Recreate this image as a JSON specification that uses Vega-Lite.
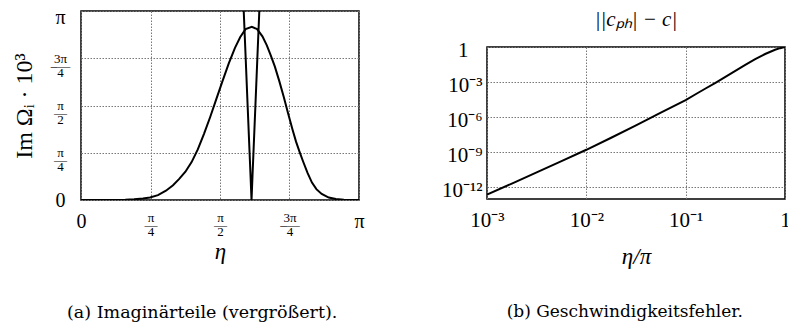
{
  "$schema": "https://vega.github.io/schema/vega-lite/v6.json",
  "background": "white",
  "padding": {"left": 11, "top": 6, "right": 0, "bottom": 0},
  "spacing": 75,
  "config": {
    "font": "Liberation Serif",
    "view": {"stroke": "black", "strokeWidth": 1.5},
    "axis": {
      "grid": true,
      "gridColor": "#777777",
      "gridDash": [1.5, 1.5],
      "gridWidth": 1,
      "domain": false,
      "tickSize": 0,
      "labelColor": "black",
      "titleColor": "black",
      "labelFont": "Liberation Serif",
      "titleFont": "Liberation Serif",
      "titleFontWeight": "normal",
      "labelOverlap": false,
      "labelFlush": false
    }
  },
  "datasets": {
    "imag": [
      {"eta": 0.0, "value": 0.0, "branch": "breit"},
      {"eta": 0.2, "value": 0.0, "branch": "breit"},
      {"eta": 0.35, "value": 0.0005, "branch": "breit"},
      {"eta": 0.5, "value": 0.004, "branch": "breit"},
      {"eta": 0.6, "value": 0.011, "branch": "breit"},
      {"eta": 0.7, "value": 0.024, "branch": "breit"},
      {"eta": 0.78, "value": 0.043, "branch": "breit"},
      {"eta": 0.87, "value": 0.08, "branch": "breit"},
      {"eta": 0.96, "value": 0.155, "branch": "breit"},
      {"eta": 1.04, "value": 0.245, "branch": "breit"},
      {"eta": 1.11, "value": 0.35, "branch": "breit"},
      {"eta": 1.18, "value": 0.47, "branch": "breit"},
      {"eta": 1.25, "value": 0.63, "branch": "breit"},
      {"eta": 1.32, "value": 0.84, "branch": "breit"},
      {"eta": 1.39, "value": 1.1, "branch": "breit"},
      {"eta": 1.46, "value": 1.38, "branch": "breit"},
      {"eta": 1.53, "value": 1.68, "branch": "breit"},
      {"eta": 1.6, "value": 1.98, "branch": "breit"},
      {"eta": 1.67, "value": 2.27, "branch": "breit"},
      {"eta": 1.74, "value": 2.53, "branch": "breit"},
      {"eta": 1.8, "value": 2.71, "branch": "breit"},
      {"eta": 1.86, "value": 2.84, "branch": "breit"},
      {"eta": 1.93, "value": 2.88, "branch": "breit"},
      {"eta": 1.99, "value": 2.84, "branch": "breit"},
      {"eta": 2.05, "value": 2.72, "branch": "breit"},
      {"eta": 2.1, "value": 2.57, "branch": "breit"},
      {"eta": 2.14, "value": 2.42, "branch": "breit"},
      {"eta": 2.19, "value": 2.22, "branch": "breit"},
      {"eta": 2.24, "value": 1.98, "branch": "breit"},
      {"eta": 2.29, "value": 1.72, "branch": "breit"},
      {"eta": 2.34, "value": 1.44, "branch": "breit"},
      {"eta": 2.39, "value": 1.17, "branch": "breit"},
      {"eta": 2.43, "value": 0.97, "branch": "breit"},
      {"eta": 2.47, "value": 0.8, "branch": "breit"},
      {"eta": 2.51, "value": 0.64, "branch": "breit"},
      {"eta": 2.56, "value": 0.45, "branch": "breit"},
      {"eta": 2.61, "value": 0.29, "branch": "breit"},
      {"eta": 2.66, "value": 0.18, "branch": "breit"},
      {"eta": 2.72, "value": 0.1, "branch": "breit"},
      {"eta": 2.8, "value": 0.04, "branch": "breit"},
      {"eta": 2.88, "value": 0.015, "branch": "breit"},
      {"eta": 2.97, "value": 0.004, "branch": "breit"},
      {"eta": 3.05, "value": 0.001, "branch": "breit"},
      {"eta": 3.1416, "value": 0.0, "branch": "breit"},
      {"eta": 1.807, "value": 4.28, "branch": "schmal"},
      {"eta": 1.839, "value": 3.14, "branch": "schmal"},
      {"eta": 1.861, "value": 2.36, "branch": "schmal"},
      {"eta": 1.883, "value": 1.57, "branch": "schmal"},
      {"eta": 1.905, "value": 0.79, "branch": "schmal"},
      {"eta": 1.916, "value": 0.4, "branch": "schmal"},
      {"eta": 1.922, "value": 0.18, "branch": "schmal"},
      {"eta": 1.925, "value": 0.07, "branch": "schmal"},
      {"eta": 1.927, "value": 0.0, "branch": "schmal"},
      {"eta": 1.929, "value": 0.07, "branch": "schmal"},
      {"eta": 1.932, "value": 0.18, "branch": "schmal"},
      {"eta": 1.938, "value": 0.4, "branch": "schmal"},
      {"eta": 1.949, "value": 0.79, "branch": "schmal"},
      {"eta": 1.971, "value": 1.57, "branch": "schmal"},
      {"eta": 1.993, "value": 2.36, "branch": "schmal"},
      {"eta": 2.015, "value": 3.14, "branch": "schmal"},
      {"eta": 2.047, "value": 4.28, "branch": "schmal"}
    ],
    "fehler": [
      {"eta_pi": 0.001, "err": 2.399e-13},
      {"eta_pi": 0.0017783, "err": 2.089e-12},
      {"eta_pi": 0.0031623, "err": 1.905e-11},
      {"eta_pi": 0.0056234, "err": 1.738e-10},
      {"eta_pi": 0.01, "err": 1.622e-9},
      {"eta_pi": 0.017783, "err": 1.738e-8},
      {"eta_pi": 0.031623, "err": 1.995e-7},
      {"eta_pi": 0.056234, "err": 2.399e-6},
      {"eta_pi": 0.1, "err": 2.884e-5},
      {"eta_pi": 0.12589, "err": 9.12e-5},
      {"eta_pi": 0.15849, "err": 2.818e-4},
      {"eta_pi": 0.19953, "err": 8.71e-4},
      {"eta_pi": 0.25119, "err": 2.818e-3},
      {"eta_pi": 0.31623, "err": 9.12e-3},
      {"eta_pi": 0.39811, "err": 2.951e-2},
      {"eta_pi": 0.50119, "err": 9.12e-2},
      {"eta_pi": 0.63096, "err": 0.2512},
      {"eta_pi": 0.79433, "err": 0.5754},
      {"eta_pi": 0.89125, "err": 0.7943},
      {"eta_pi": 1.0, "err": 1.0}
    ]
  },
  "hconcat": [
    {
      "title": {
        "text": "(a) Imaginärteile (vergrößert).",
        "orient": "bottom",
        "anchor": "middle",
        "frame": "bounds",
        "offset": 40,
        "dx": 14,
        "font": "DejaVu Serif",
        "fontSize": 17.5,
        "fontWeight": "normal",
        "color": "black"
      },
      "vconcat": [
        {
          "width": 278,
          "height": 189,
          "data": {"name": "imag"},
          "mark": {"type": "line", "color": "black", "strokeWidth": 2, "clip": true},
          "encoding": {
            "x": {
              "field": "eta",
              "type": "quantitative",
              "scale": {"domain": [0, 3.1415927], "nice": false, "zero": false},
              "axis": {
                "values": [0, 0.7853982, 1.5707963, 2.3561945, 3.1415927],
                "labelExpr": "datum.value < 0.1 ? '0' : datum.value < 1 ? ['π', '—', '4'] : datum.value < 2 ? ['π', '—', '2'] : datum.value < 3 ? ['3π', '–—', '4'] : 'π'",
                "labelFontSize": {"condition": {"test": "datum.value < 0.1 || datum.value > 3", "value": 20}, "value": 13},
                "labelLineHeight": 7,
                "labelPadding": 11,
                "title": "η",
                "titleFontStyle": "italic",
                "titleFontSize": 23,
                "titlePadding": 2
              }
            },
            "y": {
              "field": "value",
              "type": "quantitative",
              "scale": {"domain": [0, 3.1415927], "nice": false, "zero": false},
              "axis": {
                "values": [0, 0.7853982, 1.5707963, 2.3561945, 3.1415927],
                "labelExpr": "datum.value < 0.1 ? '0' : datum.value < 1 ? ['π', '—', '4'] : datum.value < 2 ? ['π', '—', '2'] : datum.value < 3 ? ['3π', '–—', '4'] : 'π'",
                "labelFontSize": {"condition": {"test": "datum.value < 0.1 || datum.value > 3", "value": 20}, "value": 13},
                "labelOffset": {"condition": {"test": "datum.value > 3", "value": 6}, "value": 0},
                "labelLineHeight": 7,
                "labelAlign": "center",
                "labelPadding": 21,
                "title": "Im Ωᵢ · 10³",
                "titleFontSize": 24,
                "titlePadding": 14
              }
            },
            "detail": {"field": "branch"}
          }
        }
      ]
    },
    {
      "title": {
        "text": "(b) Geschwindigkeitsfehler.",
        "orient": "bottom",
        "anchor": "middle",
        "frame": "bounds",
        "offset": 35,
        "dx": 9,
        "font": "DejaVu Serif",
        "fontSize": 17,
        "fontWeight": "normal",
        "color": "black"
      },
      "spacing": 8,
      "vconcat": [
        {
          "width": 298,
          "height": 18,
          "view": {"stroke": null},
          "data": {"values": [{"label": "||cₚₕ| − c|"}]},
          "mark": {"type": "text", "font": "Liberation Serif", "fontSize": 21, "fontStyle": "italic", "color": "black", "baseline": "middle"},
          "encoding": {"text": {"field": "label"}}
        },
        {
          "width": 298,
          "height": 152,
          "data": {"name": "fehler"},
          "mark": {"type": "line", "color": "black", "strokeWidth": 2, "clip": true},
          "encoding": {
            "x": {
              "field": "eta_pi",
              "type": "quantitative",
              "scale": {"type": "log", "domain": [0.001, 1], "nice": false},
              "axis": {
                "values": [0.001, 0.01, 0.1, 1],
                "labelExpr": "datum.value > 0.5 ? '1' : datum.value > 0.05 ? '10⁻¹' : datum.value > 0.005 ? '10⁻²' : '10⁻³'",
                "labelFontSize": 21,
                "labelPadding": 10,
                "title": "η/π",
                "titleFontStyle": "italic",
                "titleFontSize": 23,
                "titlePadding": 15
              }
            },
            "y": {
              "field": "err",
              "type": "quantitative",
              "scale": {"type": "log", "domain": [1e-13, 1], "nice": false},
              "axis": {
                "values": [1e-12, 1e-9, 1e-6, 1e-3, 1],
                "labelExpr": "datum.value > 0.5 ? '1' : datum.value > 5e-4 ? '10⁻³' : datum.value > 5e-7 ? '10⁻⁶' : datum.value > 5e-10 ? '10⁻⁹' : '10⁻¹²'",
                "labelFontSize": 21,
                "labelOffset": 3,
                "labelPadding": {"condition": {"test": "datum.value > 0.5", "value": 19}, "value": 5},
                "title": null
              }
            }
          }
        }
      ]
    }
  ]
}
